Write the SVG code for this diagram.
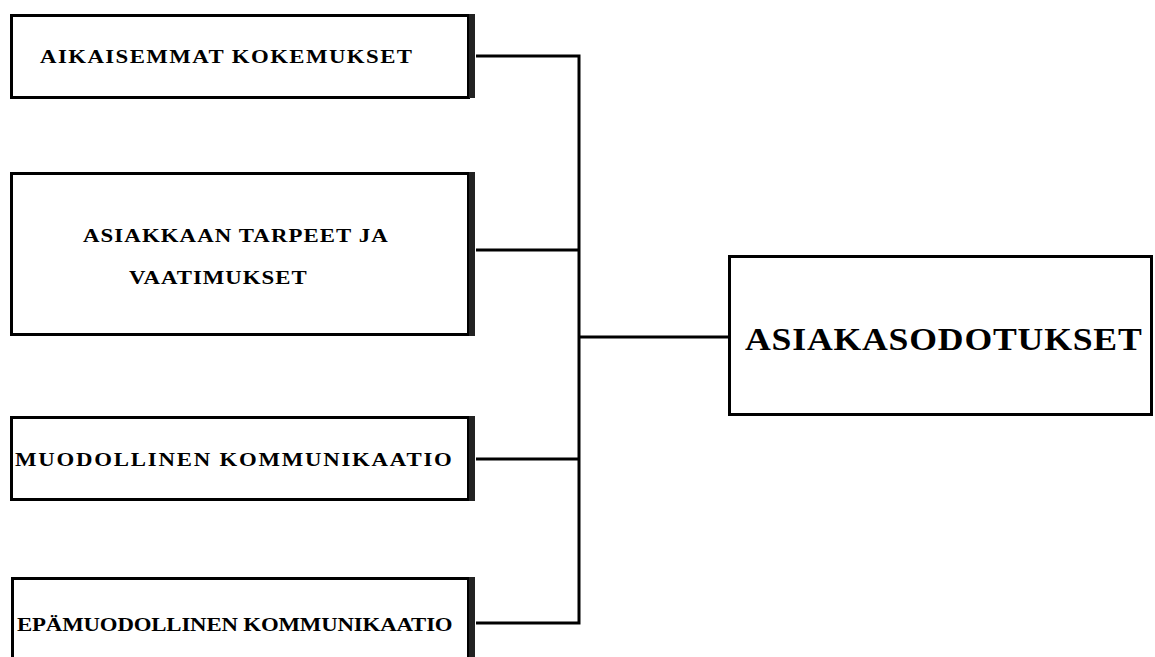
<svg xmlns="http://www.w3.org/2000/svg" width="1155" height="657" viewBox="0 0 1155 657">
<style>
.box{fill:#fff;stroke:#000;stroke-width:3}
.shadow{fill:#222}
.lbl{font-family:"Liberation Serif","Times New Roman",serif;font-weight:bold;font-size:19px;fill:#000}
.big{font-family:"Liberation Serif","Times New Roman",serif;font-weight:bold;font-size:31px;fill:#000}
.conn{fill:none;stroke:#000;stroke-width:3}
</style>
<rect width="1155" height="657" fill="#fff"/>
<g id="connectors">
<path class="conn" d="M476 56 H579 V623 H476"/>
<path class="conn" d="M476 250 H579"/>
<path class="conn" d="M476 459 H579"/>
<path class="conn" d="M579 337 H729"/>
</g>
<g id="node-aikaisemmat">
<rect class="box" x="11.5" y="15.5" width="457" height="82"/>
<rect class="shadow" x="469" y="14" width="6" height="84"/>
<text class="lbl" transform="translate(40,63) scale(1.2,1)" textLength="310" lengthAdjust="spacing">AIKAISEMMAT KOKEMUKSET</text>
</g>
<g id="node-asiakkaan">
<rect class="box" x="11.5" y="173.5" width="457" height="161"/>
<rect class="shadow" x="469" y="172" width="6" height="164"/>
<text class="lbl" transform="translate(83,242) scale(1.2,1)" textLength="254" lengthAdjust="spacing">ASIAKKAAN TARPEET JA</text>
<text class="lbl" transform="translate(129,284) scale(1.2,1)" textLength="148" lengthAdjust="spacing">VAATIMUKSET</text>
</g>
<g id="node-muodollinen">
<rect class="box" x="11.5" y="417.5" width="457" height="82"/>
<rect class="shadow" x="469" y="416" width="6" height="85"/>
<text class="lbl" transform="translate(15,466) scale(1.2,1)" textLength="364" lengthAdjust="spacing">MUODOLLINEN KOMMUNIKAATIO</text>
</g>
<g id="node-epamuodollinen">
<rect class="box" x="12.5" y="578.5" width="456" height="90"/>
<rect class="shadow" x="469" y="577" width="6" height="82"/>
<text class="lbl" transform="translate(17,631) scale(1.2,1)" textLength="363" lengthAdjust="spacing">EPÄMUODOLLINEN KOMMUNIKAATIO</text>
</g>
<g id="node-asiakasodotukset">
<rect class="box" x="729.5" y="256.5" width="422" height="158"/>
<text class="big" transform="translate(745,350) scale(1.15,1)" textLength="345" lengthAdjust="spacing">ASIAKASODOTUKSET</text>
</g>
</svg>
